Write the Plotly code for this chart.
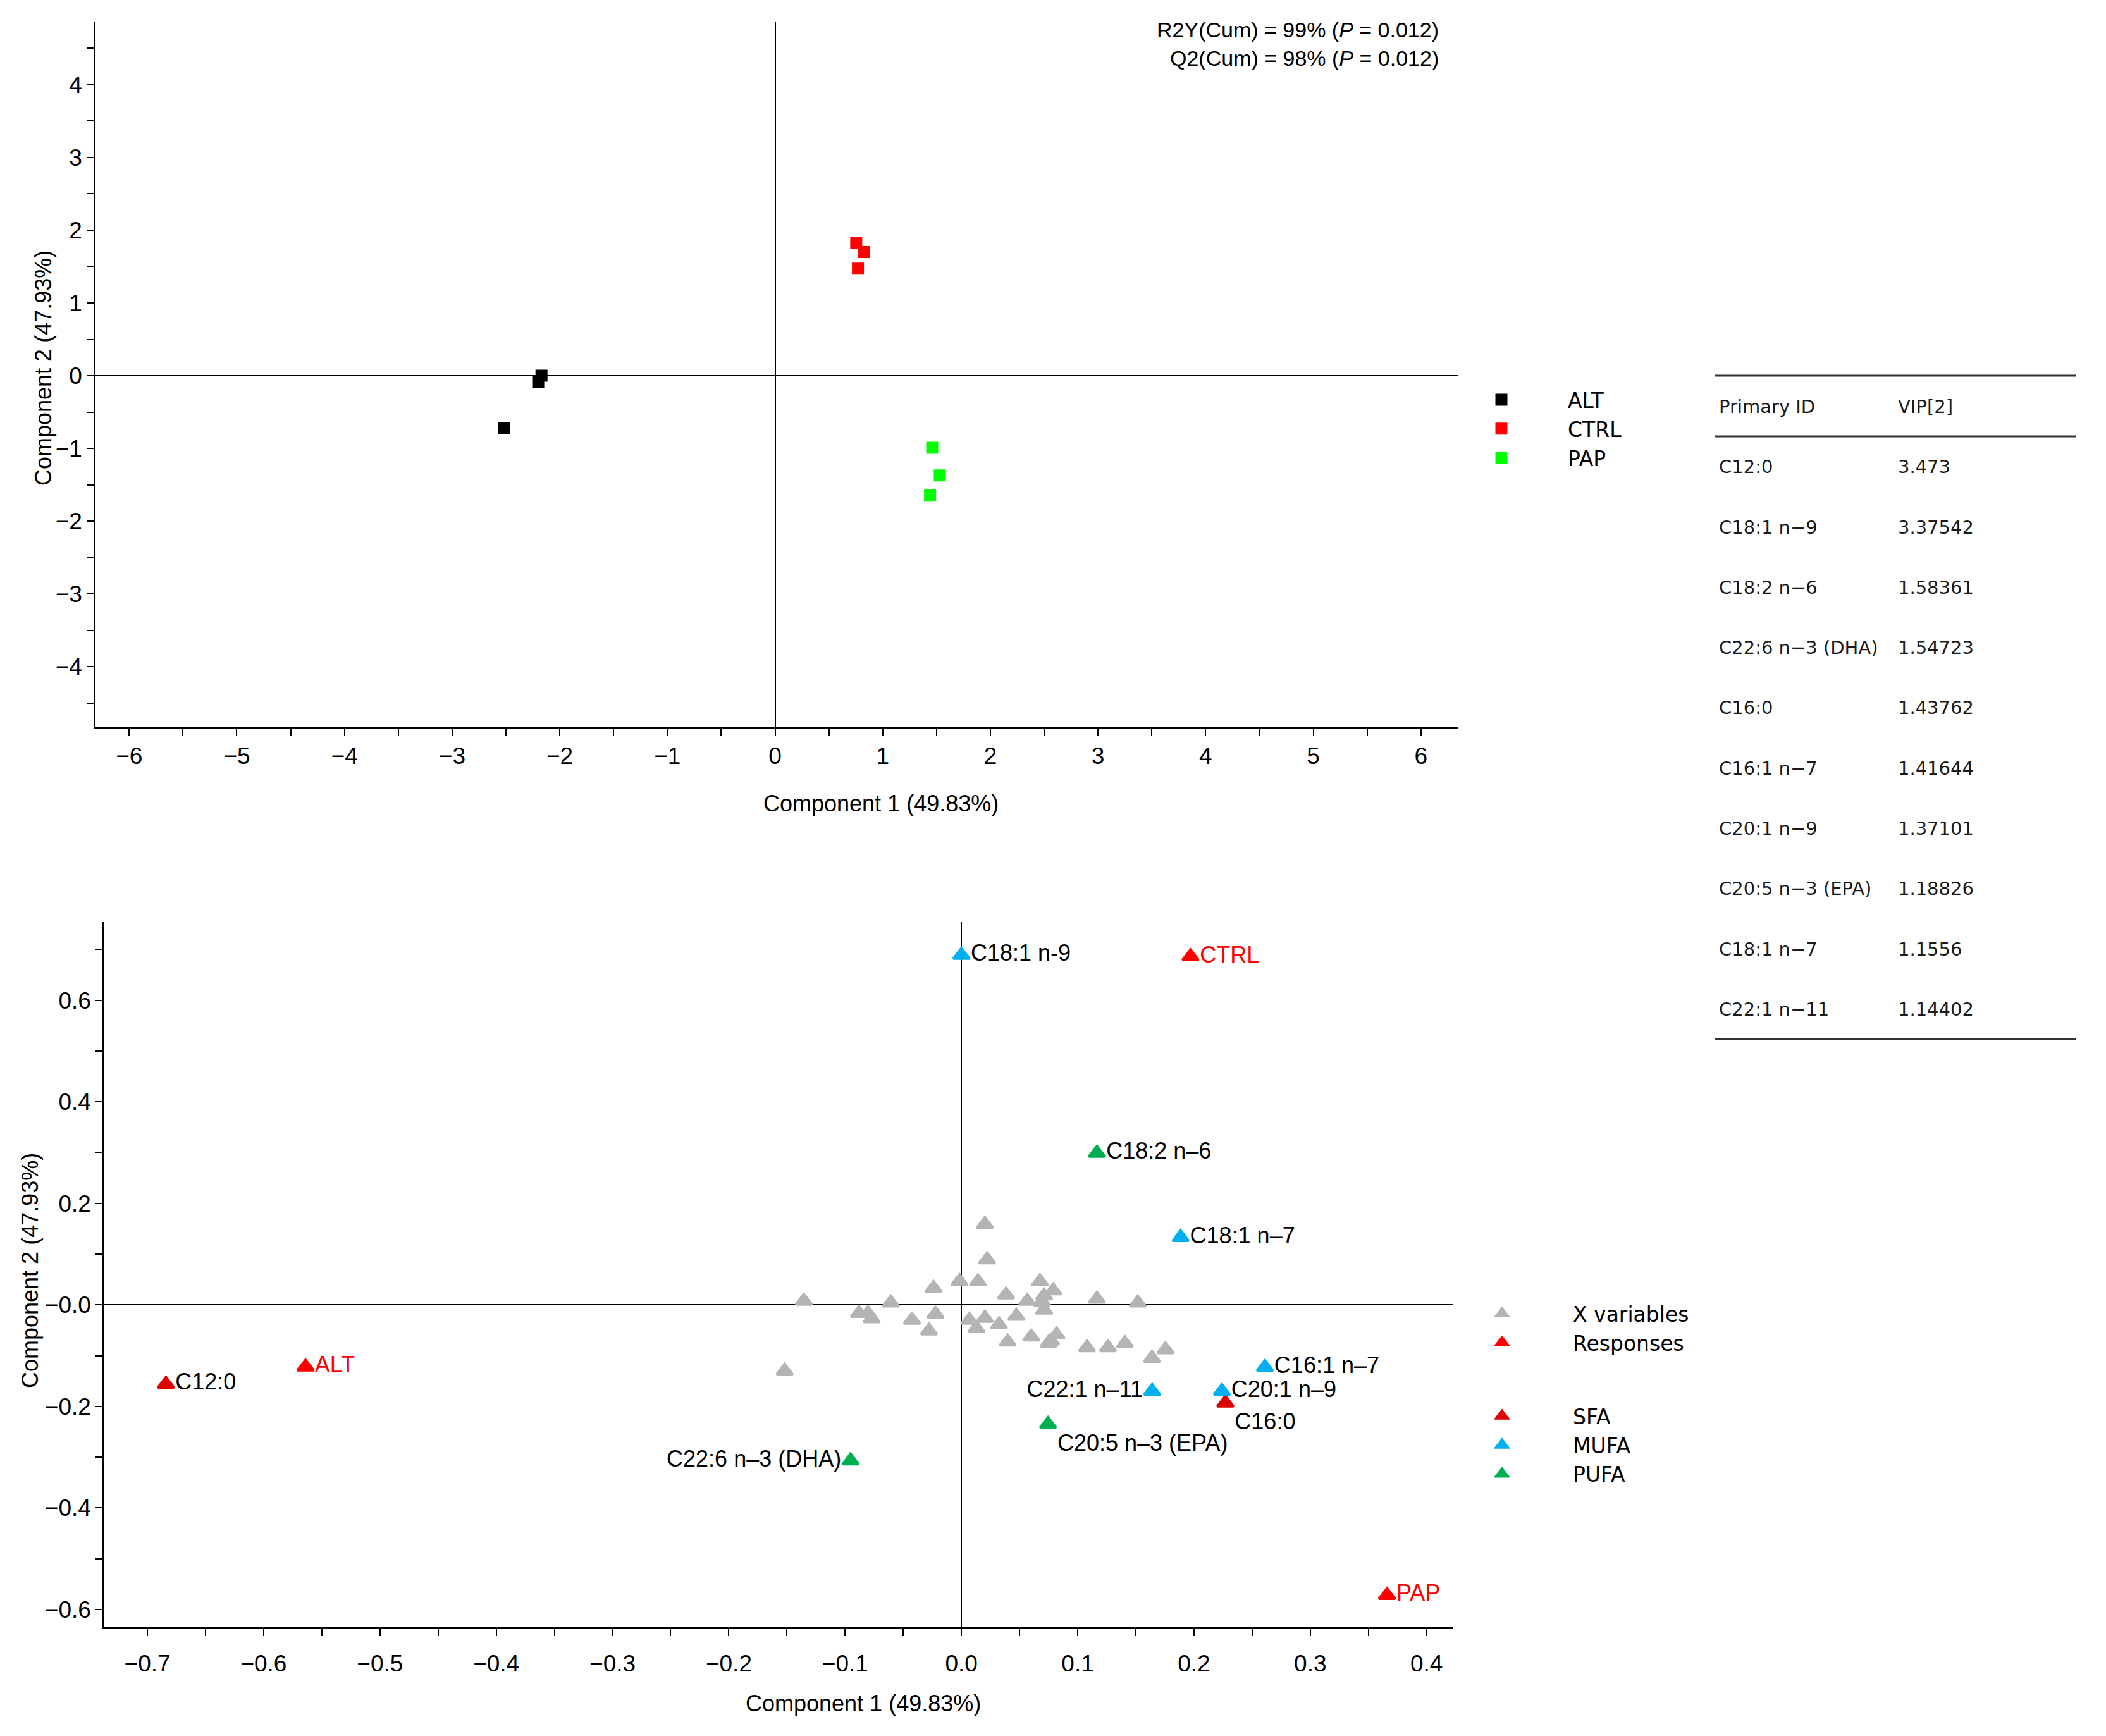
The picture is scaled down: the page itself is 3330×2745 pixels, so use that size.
import plotly.graph_objects as go

# score plot (top): three groups of samples
alt_x = [-2.52, -2.20, -2.17]
alt_y = [-0.72, -0.09, 0.00]
ctrl_x = [0.754, 0.828, 0.770]
ctrl_y = [1.82, 1.70, 1.47]
pap_x = [1.46, 1.53, 1.44]
pap_y = [-0.99, -1.37, -1.64]

# loading plot (bottom): unlabelled X variables
xvar_x = [0.0202, 0.0221, -0.0017, 0.0143, -0.0240, -0.1355, -0.0607, -0.0881, -0.0804, -0.0772,
          -0.0425, -0.0223, -0.0279, 0.0384, 0.0566, 0.0675, 0.0790, 0.0711, 0.0692, 0.0711,
          0.0068, 0.0129, 0.0202, 0.0323, 0.0473, 0.0398, 0.0600, 0.0748, 0.0770, 0.0818,
          0.1165, 0.1517, 0.1080, 0.1260, 0.1406, 0.1755, 0.1639, -0.1520]
xvar_y = [0.159, 0.089, 0.0465, 0.0457, 0.033, 0.0075, 0.004, -0.0166, -0.0166, -0.027,
          -0.030, -0.018, -0.051, 0.020, 0.0075, 0.0457, 0.028, 0.018, 0.006, -0.010,
          -0.030, -0.046, -0.026, -0.039, -0.022, -0.073, -0.063, -0.0755, -0.071, -0.059,
          0.0116, 0.004, -0.084, -0.084, -0.076, -0.088, -0.105, -0.130]

# responses
resp_names = ["ALT", "CTRL", "PAP"]
resp_x = [-0.564, 0.197, 0.366]
resp_y = [-0.122, 0.686, -0.572]

# labelled fatty acids
sfa_names = ["C12:0", "C16:0"]
sfa_x = [-0.684, 0.227]
sfa_y = [-0.156, -0.193]

mufa_names = ["C18:1 n-9", "C18:1 n–7", "C16:1 n–7", "C22:1 n–11", "C20:1 n–9"]
mufa_x = [0.000, 0.1885, 0.261, 0.164, 0.224]
mufa_y = [0.689, 0.133, -0.123, -0.170, -0.170]

pufa_names = ["C18:2 n–6", "C20:5 n–3 (EPA)", "C22:6 n–3 (DHA)"]
pufa_x = [0.1165, 0.0745, -0.0953]
pufa_y = [0.299, -0.235, -0.307]

# VIP table
vip_ids = ["C12:0", "C18:1 n−9", "C18:2 n−6", "C22:6 n−3 (DHA)", "C16:0", "C16:1 n−7",
           "C20:1 n−9", "C20:5 n−3 (EPA)", "C18:1 n−7", "C22:1 n−11"]
vip_vals = [3.473, 3.37542, 1.58361, 1.54723, 1.43762, 1.41644, 1.37101, 1.18826, 1.1556, 1.14402]

# label placement next to each marker
label_pos = {
    "ALT": "middle right", "CTRL": "middle right", "PAP": "middle right",
    "C12:0": "middle right", "C16:0": "bottom right",
    "C18:1 n-9": "middle right", "C18:1 n–7": "middle right", "C16:1 n–7": "middle right",
    "C22:1 n–11": "middle left", "C20:1 n–9": "middle right",
    "C18:2 n–6": "middle right", "C20:5 n–3 (EPA)": "bottom right", "C22:6 n–3 (DHA)": "middle left",
}

# page body has an 8 px margin, so the figure is drawn a little smaller and offset
OFF = 8
W, H = 3330 - 2 * OFF, 2745 - 2 * OFF
ARIAL = "Arial, Liberation Sans, sans-serif"
VERD = "DejaVu Sans, Verdana, sans-serif"


def px_x(v):
    return (v - OFF) / W


def px_y(v):
    return 1 - (v - OFF) / H


fig = go.Figure()

# top score plot
for name, xs, ys, col in [("ALT", alt_x, alt_y, "#000000"),
                          ("CTRL", ctrl_x, ctrl_y, "#ff0000"),
                          ("PAP", pap_x, pap_y, "#00ff00")]:
    fig.add_trace(go.Scatter(x=xs, y=ys, mode="markers", name=name, xaxis="x", yaxis="y",
                             marker=dict(symbol="square", size=16, color=col,
                                         line=dict(color=col, width=3)),
                             legend="legend"))

# bottom loading plot
tri = dict(symbol="triangle-up", size=22)
fig.add_trace(go.Scatter(x=xvar_x, y=xvar_y, mode="markers", name="X variables",
                         xaxis="x2", yaxis="y2", legend="legend2", legendgroup="a",
                         marker=dict(color="#b4b4b4", line=dict(color="#b4b4b4", width=4), **tri)))
fig.add_trace(go.Scatter(x=resp_x, y=resp_y, mode="markers+text", name="Responses",
                         text=resp_names, textposition=[label_pos[n] for n in resp_names],
                         textfont=dict(family=ARIAL, size=36, color="#ff0000"),
                         xaxis="x2", yaxis="y2", legend="legend2", legendgroup="a",
                         marker=dict(color="#ff0000", line=dict(color="#ff0000", width=4), **tri)))
for name, nm, xs, ys, col in [("SFA", sfa_names, sfa_x, sfa_y, "#dc0000"),
                              ("MUFA", mufa_names, mufa_x, mufa_y, "#00b0f0"),
                              ("PUFA", pufa_names, pufa_x, pufa_y, "#00b050")]:
    fig.add_trace(go.Scatter(x=xs, y=ys, mode="markers+text", name=name,
                             text=nm, textposition=[label_pos[n] for n in nm],
                             textfont=dict(family=ARIAL, size=36, color="#000000"),
                             xaxis="x2", yaxis="y2", legend="legend2", legendgroup="b",
                             marker=dict(color=col, line=dict(color=col, width=4), **tri)))

# VIP table
fig.add_trace(go.Table(
    domain=dict(x=[px_x(2710), px_x(3283)], y=[0.30, px_y(623)]),
    columnwidth=[283, 290],
    header=dict(values=["Primary ID", "VIP[2]"], align="left", height=95.5,
                fill_color="white", line=dict(color="white", width=0),
                font=dict(family=VERD, size=29, color="#1a1a1a")),
    cells=dict(values=[vip_ids, vip_vals], align="left", height=95.3,
               fill_color="white", line=dict(color="white", width=0),
               font=dict(family=VERD, size=29, color="#1a1a1a")),
))

axis_common = dict(showgrid=False, showline=True, linecolor="black", linewidth=2.5,
                   zeroline=True, zerolinecolor="black", zerolinewidth=1.5,
                   ticks="outside", ticklen=11, tickwidth=2, tickcolor="black",
                   tickfont=dict(family=ARIAL, size=37, color="black"))

bx_ticks = [-0.7, -0.6, -0.5, -0.4, -0.3, -0.2, -0.1, 0.0, 0.1, 0.2, 0.3, 0.4]
by_ticks = [0.6, 0.4, 0.2, 0.0, -0.2, -0.4, -0.6]

fig.update_layout(
    width=W, height=H, margin=dict(l=0, r=0, t=0, b=0),
    paper_bgcolor="white", plot_bgcolor="white",
    xaxis=dict(domain=[px_x(151), px_x(2306)], range=[-6.313, 6.348], anchor="y",
               tickmode="linear", tick0=0, dtick=1,
               minor=dict(ticks="outside", ticklen=11, tickwidth=2, tickcolor="black", dtick=0.5, tick0=0),
               **axis_common),
    yaxis=dict(domain=[px_y(1150), px_y(35)], range=[-4.83, 4.857], anchor="x",
               tickmode="linear", tick0=0, dtick=1,
               minor=dict(ticks="outside", ticklen=11, tickwidth=2, tickcolor="black", dtick=0.5, tick0=0),
               **axis_common),
    xaxis2=dict(domain=[px_x(165), px_x(2298)], range=[-0.737, 0.423], anchor="y2",
                tickmode="array", tickvals=bx_ticks,
                ticktext=[f"{v:.1f}".replace("-", "−") for v in bx_ticks],
                minor=dict(ticks="outside", ticklen=11, tickwidth=2, tickcolor="black",
                           tickmode="linear", dtick=0.05, tick0=0),
                ticklabelstandoff=12,
                **axis_common),
    yaxis2=dict(domain=[px_y(2573), px_y(1458)], range=[-0.635, 0.754], anchor="x2",
                tickmode="array", tickvals=by_ticks,
                ticktext=["0.6", "0.4", "0.2", "−0.0", "−0.2", "−0.4", "−0.6"],
                minor=dict(ticks="outside", ticklen=11, tickwidth=2, tickcolor="black",
                           tickmode="linear", dtick=0.1, tick0=0),
                **axis_common),
    legend=dict(x=px_x(2269), y=px_y(604), xanchor="left", yanchor="top",
                itemwidth=200, bgcolor="rgba(0,0,0,0)", borderwidth=0,
                font=dict(family=VERD, size=33, color="black")),
    legend2=dict(x=px_x(2263), y=px_y(2049), xanchor="left", yanchor="top",
                 itemwidth=214, bgcolor="rgba(0,0,0,0)", borderwidth=0,
                 traceorder="grouped", tracegroupgap=70,
                 font=dict(family=VERD, size=33, color="black")),
    showlegend=True,
)

# axis titles and model statistics
ann = [
    dict(text="Component 1 (49.83%)", x=px_x(1393), y=px_y(1271)),
    dict(text="Component 2 (47.93%)", x=px_x(68), y=px_y(582), textangle=-90),
    dict(text="Component 1 (49.83%)", x=px_x(1365), y=px_y(2693)),
    dict(text="Component 2 (47.93%)", x=px_x(47), y=px_y(2009), textangle=-90),
]
for a in ann:
    fig.add_annotation(xref="paper", yref="paper", showarrow=False, xanchor="center", yanchor="middle",
                       font=dict(family=ARIAL, size=36, color="black"), **a)

fig.add_annotation(text="R2Y(Cum) = 99% (<i>P</i> = 0.012)", xref="paper", yref="paper",
                   x=px_x(2277), y=px_y(47), xanchor="right", yanchor="middle", showarrow=False,
                   font=dict(family=ARIAL, size=34, color="black"))
fig.add_annotation(text="Q2(Cum) = 98% (<i>P</i> = 0.012)", xref="paper", yref="paper",
                   x=px_x(2277), y=px_y(92), xanchor="right", yanchor="middle", showarrow=False,
                   font=dict(family=ARIAL, size=34, color="black"))

# table rules
for yy in [594, 690, 1643]:
    fig.add_shape(type="line", xref="paper", yref="paper", x0=px_x(2712), x1=px_x(3283),
                  y0=px_y(yy), y1=px_y(yy), line=dict(color="#333333", width=3))

fig.write_html("out.html")
